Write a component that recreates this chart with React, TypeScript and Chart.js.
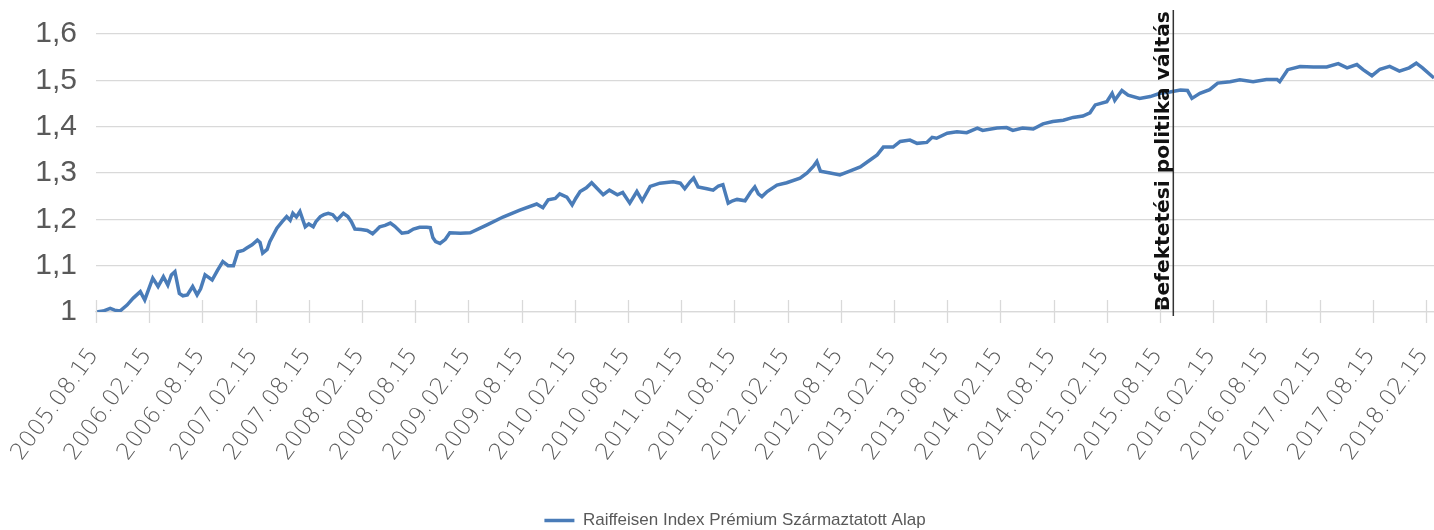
import React, { useEffect, useRef } from "react";
import { Chart, registerables } from "chart.js";

Chart.register(...registerables);

const SERIES_NAME = "Raiffeisen Index Prémium Származtatott Alap";
const ANNOTATION_TEXT = "Befektetési politika váltás";

// months elapsed since 2005.08.15
const months = [
  0, 0.8, 1.6, 2.1, 2.7, 3.5, 4.2, 5.0, 5.5, 6.4, 7.0, 7.6, 8.1, 8.5, 8.9, 9.4, 9.8, 10.3, 10.9, 11.4,
  11.8, 12.3, 13.1, 13.7, 14.3, 14.9, 15.5, 16.0, 16.6, 17.0, 17.6, 18.2, 18.5, 18.8, 19.3, 19.6, 20.4,
  21.0, 21.5, 21.9, 22.2, 22.6, 23.0, 23.6, 24.0, 24.5, 24.8, 25.3, 25.7, 26.2, 26.7, 27.2, 27.5, 27.9,
  28.4, 28.8, 29.2, 29.9, 30.6, 31.2, 31.7, 32.0, 32.6, 33.2, 33.7, 34.5, 35.2, 35.8, 36.5, 37.3, 37.7,
  38.0, 38.3, 38.8, 39.4, 39.9, 41.1, 42.2, 44.1, 45.9, 47.8, 49.7, 50.4, 51.0, 51.8, 52.3, 53.1, 53.7,
  54.1, 54.6, 55.3, 55.9, 56.5, 57.2, 57.9, 58.8, 59.4, 60.2, 61.0, 61.6, 62.5, 63.6, 65.1, 65.9, 66.4,
  67.0, 67.4, 67.9, 68.9, 69.6, 70.2, 70.7, 71.3, 71.8, 72.3, 73.2, 73.8, 74.3, 74.7, 75.1, 75.7, 76.8,
  77.9, 79.4, 80.2, 80.9, 81.3, 81.7, 82.8, 83.9, 85.0, 86.2, 87.3, 88.1, 88.8, 89.9, 90.7, 91.8, 92.6,
  93.7, 94.3, 94.8, 96.0, 97.1, 98.2, 99.4, 100.0, 101.6, 102.7, 103.4, 104.5, 105.7, 106.8, 107.9,
  109.1, 110.2, 111.3, 112.1, 112.7, 114.0, 114.6, 114.9, 115.7, 116.4, 117.7, 118.9, 120.0, 121.1,
  122.3, 123.1, 123.6, 124.5, 125.6, 126.5, 127.9, 129.0, 130.5, 132.0, 133.2, 133.5, 134.4, 135.8,
  137.3, 138.8, 140.1, 141.1, 142.2, 142.9, 143.9, 144.8, 145.9, 147.0, 148.1, 148.9, 149.6, 150.9,
];

const values = [
  1.0, 1.002, 1.008, 1.004, 1.002, 1.015, 1.03, 1.044, 1.026, 1.073, 1.055, 1.076, 1.058, 1.08, 1.087,
  1.04, 1.035, 1.037, 1.055, 1.037, 1.05, 1.08, 1.069, 1.09, 1.109, 1.1, 1.1, 1.13, 1.133, 1.138, 1.145,
  1.155, 1.15, 1.127, 1.135, 1.152, 1.181, 1.195, 1.206, 1.198, 1.213, 1.205, 1.217, 1.184, 1.19, 1.184,
  1.195, 1.206, 1.21, 1.213, 1.21, 1.199, 1.205, 1.213, 1.206, 1.195, 1.179, 1.178, 1.176, 1.169, 1.178,
  1.184, 1.187, 1.192, 1.185, 1.17, 1.172, 1.179, 1.183, 1.183, 1.182, 1.16, 1.152, 1.148, 1.157, 1.171,
  1.17, 1.171, 1.188, 1.205, 1.22, 1.233, 1.225, 1.242, 1.245, 1.255, 1.248, 1.231, 1.245, 1.26, 1.268,
  1.279, 1.267, 1.253, 1.263, 1.253, 1.258, 1.235, 1.26, 1.24, 1.271, 1.278, 1.281, 1.278, 1.266, 1.281,
  1.289, 1.27, 1.266, 1.263, 1.272, 1.275, 1.235, 1.24, 1.243, 1.24, 1.258, 1.27, 1.255, 1.249, 1.26,
  1.274, 1.279, 1.289, 1.3, 1.314, 1.325, 1.304, 1.3, 1.296, 1.304, 1.313, 1.328, 1.339, 1.356, 1.356,
  1.368, 1.371, 1.364, 1.366, 1.377, 1.375, 1.386, 1.389, 1.387, 1.397, 1.392, 1.397, 1.398, 1.392,
  1.397, 1.395, 1.406, 1.411, 1.414, 1.42, 1.423, 1.43, 1.447, 1.454, 1.472, 1.457, 1.478, 1.468, 1.461,
  1.465, 1.472, 1.475, 1.479, 1.478, 1.461, 1.472, 1.48, 1.494, 1.497, 1.501, 1.497, 1.502, 1.502,
  1.497, 1.523, 1.53, 1.529, 1.529, 1.536, 1.527, 1.534, 1.523, 1.51, 1.524, 1.53, 1.52, 1.527, 1.537,
  1.527, 1.505,
];

const xTickLabels = [
  "2005.08.15", "2006.02.15", "2006.08.15", "2007.02.15", "2007.08.15", "2008.02.15", "2008.08.15",
  "2009.02.15", "2009.08.15", "2010.02.15", "2010.08.15", "2011.02.15", "2011.08.15", "2012.02.15",
  "2012.08.15", "2013.02.15", "2013.08.15", "2014.02.15", "2014.08.15", "2015.02.15", "2015.08.15",
  "2016.02.15", "2016.08.15", "2017.02.15", "2017.08.15", "2018.02.15",
];
const X_TICK_STEP = 6; // months between labels
const X_MAX = 150.9;

const yTickLabels = ["1", "1,1", "1,2", "1,3", "1,4", "1,5", "1,6"];
const Y_MIN = 1;
const Y_MAX = 1.6;
const Y_STEP = 0.1;

const POLICY_CHANGE_MONTH = 121.5;

const LINE_COLOR = "#4a7cb8";
const GRID_COLOR = "#d9d9d9";
const TEXT_COLOR = "#595959";
const SANS = '"Liberation Sans Narrow", "Liberation Sans", sans-serif';

const tickMarksPlugin = {
  id: "crossTicks",
  afterDraw(chart: any) {
    const xs = chart.scales.x;
    const { ctx, chartArea } = chart;
    ctx.save();
    ctx.strokeStyle = GRID_COLOR;
    ctx.lineWidth = 1.3;
    xs.ticks.forEach((t: any) => {
      const px = Math.round(xs.getPixelForValue(t.value)) + 0.5;
      ctx.beginPath();
      ctx.moveTo(px, chartArea.bottom - 12);
      ctx.lineTo(px, chartArea.bottom + 11);
      ctx.stroke();
    });
    ctx.restore();
  },
};

const annotationPlugin = {
  id: "policyChange",
  afterDatasetsDraw(chart: any) {
    const xs = chart.scales.x;
    const { ctx, chartArea } = chart;
    const px = xs.getPixelForValue(POLICY_CHANGE_MONTH);
    ctx.save();
    ctx.strokeStyle = "#333333";
    ctx.lineWidth = 1.5;
    ctx.beginPath();
    ctx.moveTo(px, 10);
    ctx.lineTo(px, chartArea.bottom + 4);
    ctx.stroke();

    const targetLen = chartArea.bottom - 12;
    let size = 17;
    ctx.font = `bold ${size}px "DejaVu Sans", sans-serif`;
    const w = ctx.measureText(ANNOTATION_TEXT).width;
    size = (size * targetLen) / w;
    ctx.font = `bold ${size}px "DejaVu Sans", sans-serif`;
    ctx.fillStyle = "#111111";
    ctx.translate(px - 4, chartArea.bottom - 1);
    ctx.rotate(-Math.PI / 2);
    ctx.textAlign = "left";
    ctx.textBaseline = "alphabetic";
    ctx.fillText(ANNOTATION_TEXT, 0, 0);
    ctx.restore();
  },
};

export default function App() {
  const canvasRef = useRef<HTMLCanvasElement | null>(null);

  useEffect(() => {
    const canvas = canvasRef.current;
    if (!canvas) return;
    const data = months.map((m, i) => ({ x: m, y: values[i] }));
    const chart = new Chart(canvas, {
      type: "line",
      data: {
        datasets: [
          {
            label: SERIES_NAME,
            data,
            borderColor: LINE_COLOR,
            backgroundColor: LINE_COLOR,
            borderWidth: 3.5,
            pointRadius: 0,
            tension: 0,
          },
        ],
      },
      options: {
        animation: false,
        responsive: true,
        maintainAspectRatio: false,
        layout: { padding: { top: 34, right: 0, bottom: -9, left: 36 } },
        plugins: {
          tooltip: { enabled: false },
          legend: {
            position: "bottom",
            labels: {
              usePointStyle: true,
              pointStyle: "line",
              pointStyleWidth: 30,
              padding: 4,
              color: TEXT_COLOR,
              font: { family: SANS, size: 17 },
            },
          },
        },
        scales: {
          x: {
            type: "linear",
            min: 0,
            max: X_MAX,
            grid: { drawOnChartArea: false, drawTicks: false },
            border: { display: true, color: GRID_COLOR, width: 1.3 },
            ticks: {
              stepSize: X_TICK_STEP,
              includeBounds: false,
              autoSkip: false,
              minRotation: 54,
              maxRotation: 54,
              padding: 31,
              labelOffset: -2,
              color: TEXT_COLOR,
              font: { family: '"DejaVu Sans", sans-serif', size: 23, weight: "200" },
              callback: (v: any) => {
                const idx = Math.round(Number(v) / X_TICK_STEP);
                return xTickLabels[idx] ?? "";
              },
            },
            afterFit: (scale: any) => {
              scale.height = 196;
              scale.paddingLeft = 0;
              scale.paddingRight = 0;
            },
          },
          y: {
            min: Y_MIN,
            max: Y_MAX,
            grid: { color: GRID_COLOR, lineWidth: 1.3, drawTicks: false },
            border: { display: false },
            ticks: {
              stepSize: Y_STEP,
              padding: 19,
              color: TEXT_COLOR,
              font: { family: SANS, size: 30 },
              callback: (v: any) => {
                const idx = Math.round((Number(v) - Y_MIN) / Y_STEP);
                return yTickLabels[idx] ?? "";
              },
            },
            afterFit: (scale: any) => {
              scale.width = 60;
              scale.paddingTop = 0;
              scale.paddingBottom = 0;
            },
          },
        },
      },
      plugins: [tickMarksPlugin, annotationPlugin],
    });
    return () => chart.destroy();
  }, []);

  return (
    <div style={{ position: "absolute", left: 0, top: 0, width: 1434, height: 530, background: "#fff" }}>
      <canvas ref={canvasRef} />
    </div>
  );
}
